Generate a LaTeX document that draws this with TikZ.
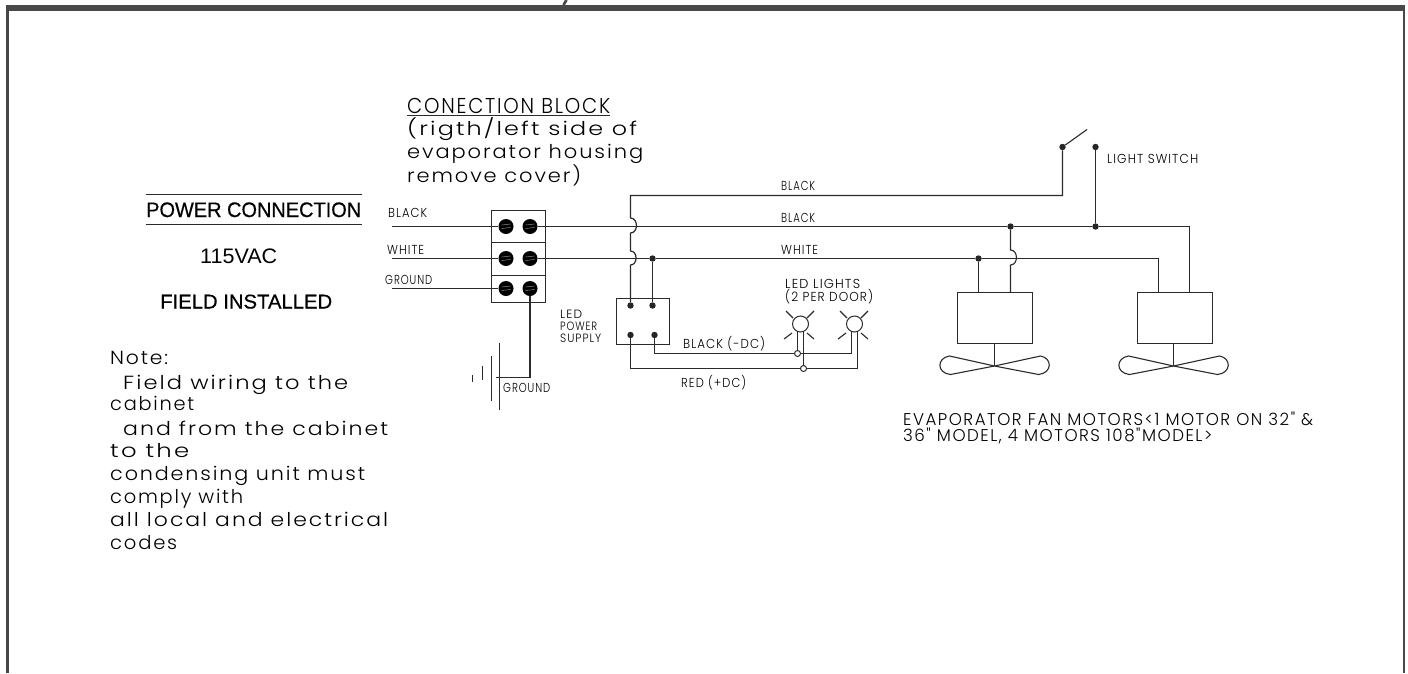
\documentclass[tikz,border=0pt]{standalone}
\usepackage{fontspec}
\usepackage{graphicx}
\setmainfont{Liberation Sans}
\newfontfamily\cadf{Poppins Light}[LetterSpace=9]
\newfontfamily\arif{Liberation Sans}
\newfontfamily\arim{Liberation Sans}[FakeBold=0.5]
\definecolor{ink}{HTML}{2B2B2B}
\definecolor{frame}{HTML}{484848}
\newsavebox{\fitbox}
% width-fitted text: #1 target width, #2 font size, #3 font, #4 text
\newcommand{\fitw}[4]{\sbox{\fitbox}{\fontsize{#2}{#2}#3#4}\pgfmathsetmacro{\fitsx}{#1/\wd\fitbox}\scalebox{\fitsx}[1]{\usebox{\fitbox}}}
\tikzset{
  x=1pt,y=-1pt,
  wire/.style={draw=ink,line width=1.2pt},
  thinwire/.style={draw=ink,line width=1.1pt},
  framel/.style={draw=frame,line cap=butt},
  boxn/.style={draw=ink,line width=1.2pt,fill=none,outer sep=0pt},
  termn/.style={circle,fill=black,draw=none,inner sep=0pt,minimum size=15pt,
    path picture={
      \draw[black!45,line width=0.5pt] ([shift={(-4.5,-1.5)}]path picture bounding box.center) -- ([shift={(4.5,-2.5)}]path picture bounding box.center);
      \draw[black!45,line width=0.5pt] ([shift={(-4.5,2)}]path picture bounding box.center) -- ([shift={(4.5,1)}]path picture bounding box.center);
    }},
  dotn/.style={circle,fill=black!85,draw=none,inner sep=0pt,minimum size=6.4pt},
  ringn/.style={circle,fill=none,draw=ink,line width=1pt,inner sep=0pt,minimum size=6pt},
  lampn/.style={circle,fill=none,draw=ink,line width=1pt,inner sep=0pt,minimum size=16pt},
  lbl/.style={inner sep=0pt,anchor=base west,text=black},
}
\begin{document}
\begin{tikzpicture}
\useasboundingbox (0,0) rectangle (1408,673);
\fill[white] (0,0) rectangle (1408,673);
% frame
\coordinate (fa) at (7.2,673); \coordinate (fb) at (7.2,8);
\coordinate (fc) at (1404,8); \coordinate (fd) at (1404,673);
\draw[framel,line width=2.6pt] (fa) -- (fb);
\draw[framel,line width=2.6pt] (fc) -- (fd);
\draw[framel,line width=5.8pt] (6,8) -- (1405.3,8);
\coordinate (tka) at (563.5,5); \coordinate (tkb) at (566.5,0);
\draw[framel,line width=2.6pt] (tka) -- (tkb);

% headings
\coordinate (pl1a) at (146,194.5); \coordinate (pl1b) at (362,194.5);
\coordinate (pl2a) at (146,224.5); \coordinate (pl2b) at (362,224.5);
\draw[thinwire] (pl1a) -- (pl1b);
\draw[thinwire] (pl2a) -- (pl2b);
\node[lbl] (tpower) at (146,217) {\fitw{215}{21pt}{\arim}{POWER CONNECTION}};
\node[lbl] (t115) at (200,263) {\fitw{77}{21pt}{\arif}{115VAC}};
\node[lbl] (tfield) at (160,308.5) {\fitw{172}{20pt}{\arim}{FIELD INSTALLED}};

\node[lbl] (tblock) at (407,113) {\fitw{203}{21.5pt}{\cadf}{CONECTION BLOCK}};
\coordinate (ula) at (407,115.5); \coordinate (ulb) at (610,115.5);
\draw[thinwire] (ula) -- (ulb);
\node[lbl] (tr1) at (407,135) {\fitw{230}{19pt}{\cadf}{(rigth/left side of}};
\node[lbl] (tr2) at (407,158) {\fitw{236}{19pt}{\cadf}{evaporator housing}};
\node[lbl] (tr3) at (407,182) {\fitw{174}{19pt}{\cadf}{remove cover)}};

% note
\node[lbl] (n1) at (110,364) {\fitw{58}{19pt}{\cadf}{Note:}};
\node[lbl] (n2) at (123,389) {\fitw{225}{19pt}{\cadf}{Field wiring to the}};
\node[lbl] (n3) at (110,410) {\fitw{84}{19pt}{\cadf}{cabinet}};
\node[lbl] (n4) at (123,435) {\fitw{265}{19pt}{\cadf}{and from the cabinet}};
\node[lbl] (n5) at (110,457) {\fitw{79}{19pt}{\cadf}{to the}};
\node[lbl] (n6) at (110,480) {\fitw{255}{19pt}{\cadf}{condensing unit must}};
\node[lbl] (n7) at (110,503) {\fitw{133}{19pt}{\cadf}{comply with}};
\node[lbl] (n8) at (110,526) {\fitw{278}{19pt}{\cadf}{all local and electrical}};
\node[lbl] (n9) at (110,549) {\fitw{67}{19pt}{\cadf}{codes}};

% small labels
\node[lbl] (lb1) at (388,217) {\fitw{39}{13pt}{\cadf}{BLACK}};
\node[lbl] (lw1) at (387,254) {\fitw{37}{13pt}{\cadf}{WHITE}};
\node[lbl] (lg1) at (385,284) {\fitw{47}{13pt}{\cadf}{GROUND}};
\node[lbl] (ll1) at (560,318) {\fitw{22}{12pt}{\cadf}{LED}};
\node[lbl] (ll2) at (560,330.5) {\fitw{37}{12pt}{\cadf}{POWER}};
\node[lbl] (ll3) at (560,342.5) {\fitw{41}{12pt}{\cadf}{SUPPLY}};
\node[lbl] (lg2) at (503,392) {\fitw{47}{13pt}{\cadf}{GROUND}};
\node[lbl] (lbd) at (683,348) {\fitw{82}{13pt}{\cadf}{BLACK (-DC)}};
\node[lbl] (lrd) at (681,387.5) {\fitw{65}{13pt}{\cadf}{RED (+DC)}};
\node[lbl] (ll4) at (785,288) {\fitw{75}{13pt}{\cadf}{LED LIGHTS}};
\node[lbl] (ll5) at (785,301) {\fitw{88}{13pt}{\cadf}{(2 PER DOOR)}};
\node[lbl] (lb2) at (781,190) {\fitw{34}{13pt}{\cadf}{BLACK}};
\node[lbl] (lb3) at (781,222) {\fitw{34}{13pt}{\cadf}{BLACK}};
\node[lbl] (lw3) at (781,254) {\fitw{37}{13pt}{\cadf}{WHITE}};
\node[lbl] (lsw) at (1107,163) {\fitw{91}{13pt}{\cadf}{LIGHT SWITCH}};
\node[lbl] (ev1) at (903,425.5) {\fitw{410}{17pt}{\cadf}{EVAPORATOR FAN MOTORS<1 MOTOR ON 32" \&}};
\node[lbl] (ev2) at (903,441.5) {\fitw{309}{17pt}{\cadf}{36" MODEL, 4 MOTORS 108"MODEL>}};

% connection block
\node[boxn,draw,inner sep=0pt,minimum width=54pt,minimum height=92pt,anchor=north west] (blk) at (491.5,210.5) {};
\coordinate (d1a) at (491.5,242.5); \coordinate (d1b) at (545.5,242.5);
\coordinate (d2a) at (491.5,275.5); \coordinate (d2b) at (545.5,275.5);
\draw[wire] (d1a) -- (d1b);
\draw[wire] (d2a) -- (d2b);

% terminals
\node[termn] (t1l) at (506,226.5) {}; \node[termn] (t1r) at (530,226.5) {};
\node[termn] (t2l) at (506,258.5) {}; \node[termn] (t2r) at (530,258.5) {};
\node[termn] (t3l) at (506,288.5) {}; \node[termn] (t3r) at (530,288.5) {};

% incoming wires
\coordinate (in1) at (392,226.5); \coordinate (in2) at (392,258.5); \coordinate (in3) at (392,288.5);
\draw[wire] (in1) -- (t1l);
\draw[wire] (in2) -- (t2l);
\draw[wire] (in3) -- (t3l);

% motors
\node[boxn,draw,inner sep=0pt,minimum width=75pt,minimum height=51pt,anchor=north west] (m1) at (957.5,292.5) {};
\node[boxn,draw,inner sep=0pt,minimum width=75pt,minimum height=51pt,anchor=north west] (m2) at (1137.5,292.5) {};

% junction dots
\node[dotn] (jw) at (652.5,258.5) {};
\node[dotn] (jm1w) at (978.5,258.5) {};
\node[dotn] (jm1b) at (1010.5,226.5) {};
\node[dotn] (jsw) at (1095.5,226.5) {};
\node[dotn] (sa) at (1062.5,147) {};
\node[dotn] (sb) at (1095.5,147) {};

% main runs
\coordinate (ble) at (1189.5,226.5); \coordinate (blm) at (1189.5,292.5);
\coordinate (whe) at (1158.5,258.5); \coordinate (whm) at (1158.5,292.5);
\draw[wire] (t1r) -- (jm1b) -- (jsw) -- (ble) -- (blm);
\draw[wire] (t2r) -- (jw) -- (jm1w) -- (whe) -- (whm);
\coordinate (m1wb) at (978.5,292.5); \draw[thinwire] (jm1w) -- (m1wb);
\coordinate (m1h1) at (1010.5,250); \coordinate (m1h2) at (1010.5,265); \coordinate (m1bb) at (1010.5,292.5);
\draw[thinwire] (jm1b) -- (m1h1) to[out=0,in=0,looseness=1.35] (m1h2) -- (m1bb);
\draw[thinwire] (sb) -- (jsw);
\coordinate (blade) at (1087,129.5);
\draw[thinwire] (sa) -- (blade);

% LED power supply
\node[boxn,draw,inner sep=0pt,minimum width=53pt,minimum height=46pt,anchor=north west] (psu) at (616.5,298.5) {};
\node[dotn] (p1) at (630.5,305.5) {};
\node[dotn] (p2) at (652.5,305.5) {};
\node[dotn] (p3) at (630.5,335) {};
\node[dotn] (p4) at (654.5,335) {};
\coordinate (hv0) at (630.5,195.5); \coordinate (h1a) at (630.5,218); \coordinate (h1b) at (630.5,233);
\coordinate (h2a) at (630.5,251); \coordinate (h2b) at (630.5,265);
\coordinate (swc) at (1062.5,195.5);
\draw[wire] (sa) -- (swc) -- (hv0) -- (h1a) to[out=0,in=0,looseness=1.35] (h1b) -- (h2a) to[out=0,in=0,looseness=1.35] (h2b) -- (p1);
\draw[wire] (jw) -- (p2);

% ground
\coordinate (ga) at (530,377.5); \coordinate (gb) at (496,377.5);
\draw[wire] (t3r) -- (ga) -- (gb);
\coordinate (g1a) at (499.5,343); \coordinate (g1b) at (499.5,410);
\coordinate (g2a) at (491.5,356); \coordinate (g2b) at (491.5,401);
\coordinate (g3a) at (482.5,366); \coordinate (g3b) at (482.5,380);
\coordinate (g4a) at (472.5,375); \coordinate (g4b) at (472.5,382);
\draw[thinwire] (g1a) -- (g1b);
\draw[thinwire] (g2a) -- (g2b);
\draw[thinwire] (g3a) -- (g3b);
\draw[thinwire] (g4a) -- (g4b);

% lamps
\node[lampn] (la1) at (800.5,324) {};
\node[lampn] (la2) at (854.5,324) {};
\foreach \lx/\ln in {800/ra,854/rb}{
  \draw[thinwire] (\lx-14,311) -- (\lx-7,318);
  \draw[thinwire] (\lx+14,311) -- (\lx+7,318);
  \draw[thinwire] (\lx-16,339) -- (\lx-8,333);
  \draw[thinwire] (\lx+14,339) -- (\lx+7,333);
}
\node[ringn] (rg1) at (797.5,353.5) {};
\node[ringn] (rg2) at (803.5,368.5) {};
\coordinate (bs) at (654.5,353.5); \coordinate (be) at (851.5,353.5); \coordinate (bt) at (851.5,332);
\draw[wire] (p4) -- (bs) -- (rg1) -- (be) -- (bt);
\coordinate (rs) at (630.5,368.5); \coordinate (re) at (857.5,368.5); \coordinate (rt) at (857.5,332);
\draw[wire] (p3) -- (rs) -- (rg2) -- (re) -- (rt);
\coordinate (l1a) at (797.5,332); \coordinate (l1b) at (803.5,332);
\draw[wire] (l1a) -- (rg1);
\draw[wire] (l1b) -- (rg2);

% fans
\foreach \fx/\fn in {994.5/fana,1173.5/fanb}{
  \coordinate (\fn) at (\fx,366);
  \coordinate (\fn t) at (\fx,343.5);
  \draw[thinwire] (\fn t) -- (\fn);
  \draw[thinwire] (\fn) -- (\fx-45,356) .. controls (\fx-58,358) and (\fx-58,373) .. (\fx-44,374.5) -- (\fn);
  \draw[thinwire] (\fn) -- (\fx+46,356) .. controls (\fx+58,358) and (\fx+58,373) .. (\fx+44,374.5) -- (\fn);
}
\end{tikzpicture}
\end{document}
